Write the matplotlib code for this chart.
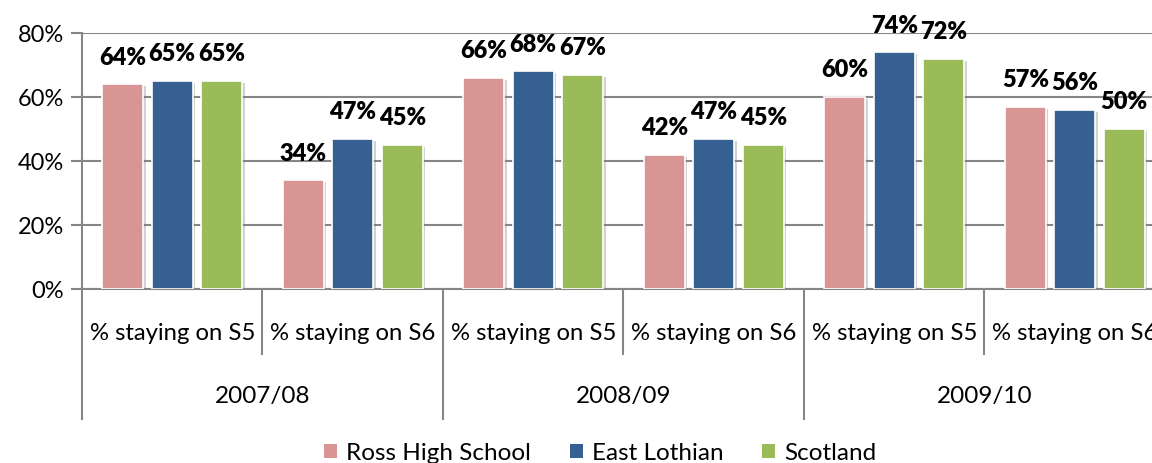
import matplotlib
matplotlib.use("Agg")
import matplotlib.pyplot as plt
import matplotlib.patheffects as pe
from matplotlib.patches import Patch
import numpy as np

plt.rcParams['font.family'] = ['Lato', 'DejaVu Sans']

years = ["2007/08", "2008/09", "2009/10"]
subcats = ["% staying on S5", "% staying on S6"] * 3
series = ["Ross High School", "East Lothian", "Scotland"]
ross = [64, 34, 66, 42, 60, 57]
east_lothian = [65, 47, 68, 47, 74, 56]
scotland = [65, 45, 67, 45, 72, 50]
colors = ["#D99594", "#366092", "#9BBB59"]
yticks = [0, 20, 40, 60, 80]

W, H = 1152, 464
fig = plt.figure(figsize=(W / 100, H / 100), dpi=100)
ax = fig.add_axes([82 / W, 1 - 290 / H, 1083 / W, 256 / H])

grid_c = "#868686"
x = np.arange(len(subcats))
step = 0.274
bw = 0.226
for i, (vals, c) in enumerate(zip([ross, east_lothian, scotland], colors)):
    pos = x + (i - 1) * step
    bars = ax.bar(pos, vals, width=bw, color=c, edgecolor="white", linewidth=1.2, zorder=3,
                  label=series[i])
    for b in bars:
        b.set_path_effects([pe.SimplePatchShadow(offset=(2, -1.5), shadow_rgbFace="#808080", alpha=0.35),
                            pe.Normal()])
    for p, v in zip(pos, vals):
        ax.annotate(f"{v}%", (p, v), xytext=(0, 12), textcoords="offset points",
                    ha="center", va="bottom", fontsize=17, fontweight="heavy", color="black",
                    zorder=5, annotation_clip=False)

ax.set_xlim(-0.5, len(subcats) - 0.5)
ax.set_ylim(0, 80)
ax.set_yticks(yticks)
ax.set_yticklabels([f"{t}%" for t in yticks], fontsize=17)
ax.yaxis.grid(True, color=grid_c, linewidth=1.5, zorder=0)
ax.set_axisbelow(True)
ax.tick_params(axis="y", length=8, width=1.5, color=grid_c, pad=5, labelcolor="black")
ax.set_xticks([])
for s in ["top", "right"]:
    ax.spines[s].set_visible(False)
for s in ["left", "bottom"]:
    ax.spines[s].set_color(grid_c)
    ax.spines[s].set_linewidth(1.5)

trans = ax.get_xaxis_transform()
axh = 256.0
# inner separators
for b in [0.5, 2.5, 4.5]:
    ax.plot([b, b], [0, -65 / axh], transform=trans, color=grid_c, lw=1.5, clip_on=False)
# outer separators
for b in [-0.5, 1.5, 3.5, 5.5]:
    ax.plot([b, b], [0, -130 / axh], transform=trans, color=grid_c, lw=1.5, clip_on=False)

for xi, lab in zip(x, subcats):
    ax.text(xi, -43 / axh, lab, transform=trans, ha="center", va="center", fontsize=17.2, color="black")
for j, yr in enumerate(years):
    ax.text(2 * j + 0.5, -107 / axh, yr, transform=trans, ha="center", va="center", fontsize=17.5,
            color="black")

handles = [Patch(facecolor=c, edgecolor="none") for c in colors]
fig.legend(handles, series, loc="center", bbox_to_anchor=(600 / W, 10 / H), ncol=3, frameon=False,
           fontsize=17.5, handlelength=0.55, handleheight=0.55, handletextpad=0.35, columnspacing=1.6,
           borderaxespad=0)

fig.savefig("out.png", dpi=100)
